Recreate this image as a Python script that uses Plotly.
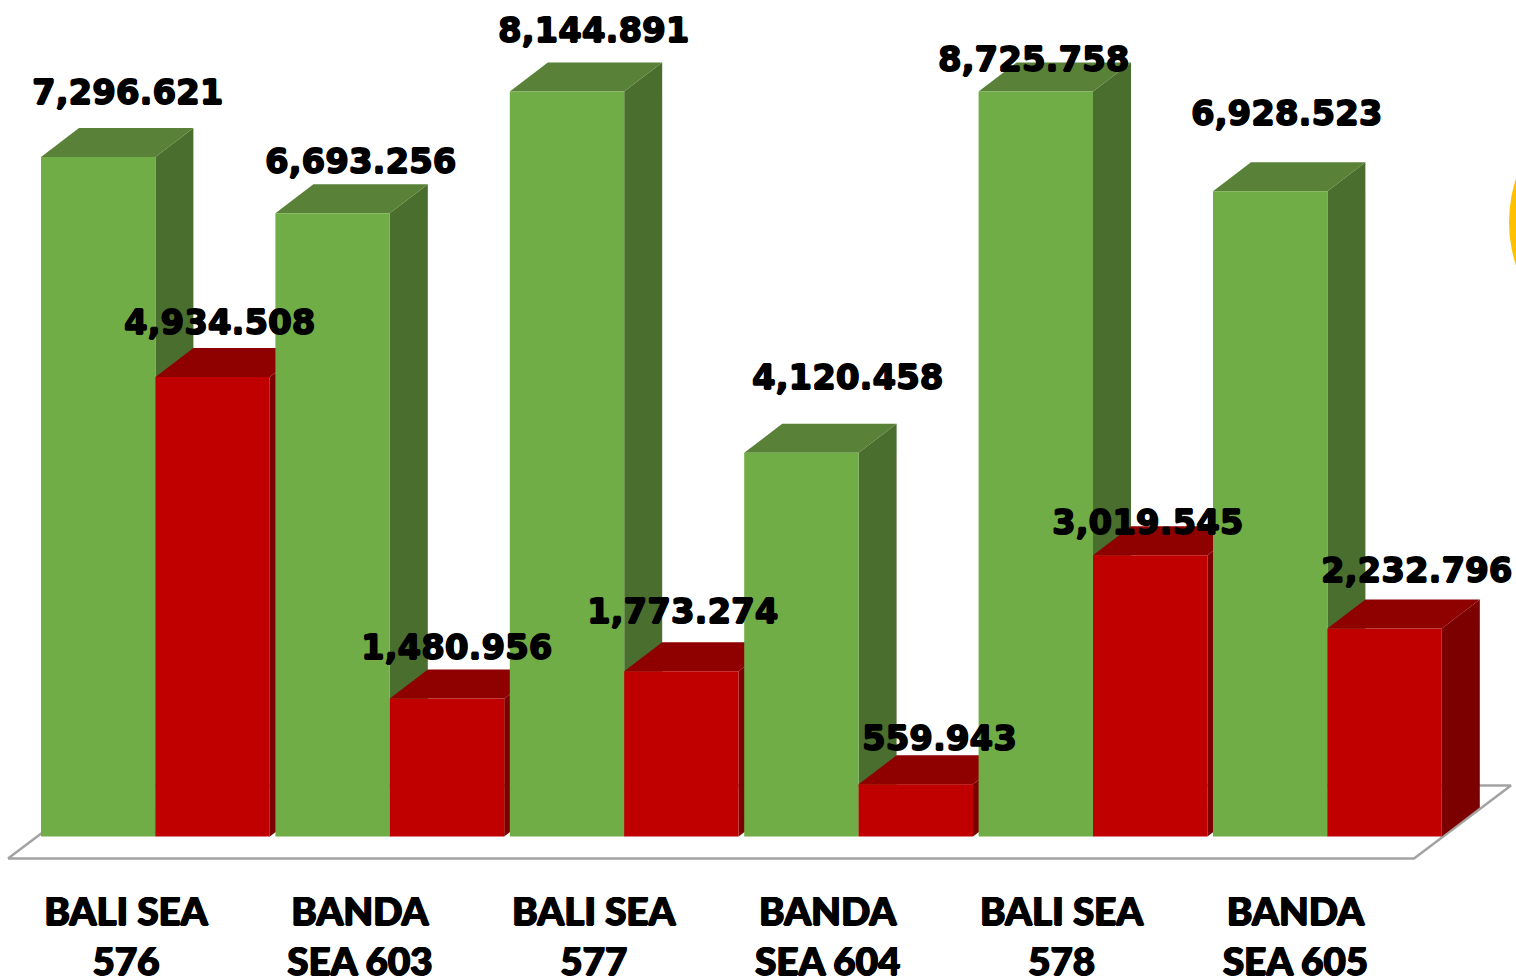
import plotly.graph_objects as go

# values
categories = ["BALI SEA<br>576", "BANDA<br>SEA 603", "BALI SEA<br>577", "BANDA<br>SEA 604", "BALI SEA<br>578", "BANDA<br>SEA 605"]
green_values = [7296.621, 6693.256, 8144.891, 4120.458, 8725.758, 6928.523]
red_values = [4934.508, 1480.956, 1773.274, 559.943, 3019.545, 2232.796]
axis_max = 8000  # the original axis stops here, taller bars get cut off

# label nudges in px, the labels were placed by hand in the original
green_dx = [29.5, 28, 26, 46, -2, 16.5]
green_dy = [65, 52, 62, 76, 33, 78]
red_dx = [6.5, 9, 1, 24, -3, 31.5]
red_dy = [55, 52, 60, 46, 33, 59]

W, H = 1516, 977
PLOT_H = 870
BASE_PX = 836.5
PX_PER_X = 234.4
PX_PER_Y = 745 / axis_max
X0_PX = 126  # pixel of the first tick
TICK_STEP = 233.9 / PX_PER_X  # labels run a touch tighter than the bars

# 3d look: how far the back of a bar sits from its front
depth_x = 38 / PX_PER_X
depth_y = 29 / PX_PER_Y
bar_w = 114.4 / PX_PER_X
green_off = (41 - X0_PX) / PX_PER_X
red_off = green_off + bar_w

GREEN = dict(front="#70AD47", top="#598137", side="#4A6E2D")
RED = dict(front="#C00000", top="#8F0000", side="#7C0000")

# no black weight installed, a thin shadow thickens the bold
HEAVY = "0.8px 0 0 #000,-0.8px 0 0 #000,0 0.6px 0 #000,0 -0.6px 0 #000"

fig = go.Figure()
z = 0


def poly(xs, ys, color, zorder):
    fig.add_trace(go.Scatter(
        x=xs, y=ys, mode="lines", fill="toself", fillcolor=color,
        line=dict(width=0), hoverinfo="skip", showlegend=False, zorder=zorder
    ))


# floor
floor_front = -22 / PX_PER_Y
floor_l = -118 / PX_PER_X
floor_r = 1288 / PX_PER_X
floor_dx = 97 / PX_PER_X
floor_dy = 73 / PX_PER_Y
fig.add_trace(go.Scatter(
    x=[floor_l, floor_r, floor_r + floor_dx, floor_l + floor_dx, floor_l],
    y=[floor_front, floor_front, floor_front + floor_dy, floor_front + floor_dy, floor_front],
    mode="lines", line=dict(color="#A3A3A3", width=2.5),
    fill="toself", fillcolor="#FFFFFF", hoverinfo="skip", showlegend=False, zorder=0
))

annotations = []
for i in range(len(categories)):
    for vals, off, col, dxs, dys in (
        (green_values, green_off, GREEN, green_dx, green_dy),
        (red_values, red_off, RED, red_dx, red_dy),
    ):
        v = vals[i]
        top = min(v, axis_max)
        x0 = i + off
        x1 = x0 + bar_w
        z += 1
        # side and top faces first, front bar over them
        poly([x1, x1 + depth_x, x1 + depth_x, x1, x1], [0, depth_y, top + depth_y, top, 0], col["side"], z)
        poly([x0, x1, x1 + depth_x, x0 + depth_x, x0], [top, top, top + depth_y, top + depth_y, top], col["top"], z)
        z += 1
        fig.add_trace(go.Bar(
            x=[x0 + bar_w / 2], y=[top], width=[bar_w], marker=dict(color=col["front"], line=dict(width=0)),
            hovertext=[f"{categories[i].replace('<br>', ' ')}: {v:,.3f}"], hoverinfo="text",
            showlegend=False, zorder=z
        ))
        annotations.append(dict(
            x=x0 + bar_w / 2, y=top, text=f"{v:,.3f}", showarrow=False,
            xshift=dxs[i], yshift=dys[i],
            font=dict(family="DejaVu Sans", size=34, color="#000000", weight=700, shadow=HEAVY)
        ))

fig.update_layout(
    width=W, height=H,
    margin=dict(l=0, r=0, t=0, b=H - PLOT_H, autoexpand=False),
    paper_bgcolor="#FFFFFF", plot_bgcolor="#FFFFFF",
    barmode="overlay", showlegend=False,
    annotations=annotations,
    # yellow thing poking in from the right edge of the slide
    shapes=[dict(type="circle", xref="paper", yref="paper", layer="above",
                 x0=1509 / W, x1=1787 / W, y0=(PLOT_H - 361) / PLOT_H, y1=(PLOT_H - 83) / PLOT_H,
                 fillcolor="#FFC000", line=dict(width=0))],
    xaxis=dict(
        range=[-X0_PX / PX_PER_X, (W - X0_PX) / PX_PER_X],
        tickmode="array", tickvals=[i * TICK_STEP for i in range(len(categories))], ticktext=categories,
        ticks="outside", ticklen=8, tickcolor="rgba(0,0,0,0)",
        tickfont=dict(family="Lato", size=38.5, color="#000000", weight=900, shadow=HEAVY),
        tickangle=0, showgrid=False, zeroline=False, showline=False, automargin=False
    ),
    yaxis=dict(
        range=[(BASE_PX - PLOT_H) / PX_PER_Y, BASE_PX / PX_PER_Y],
        visible=False, showgrid=False, zeroline=False
    )
)

fig.write_html("out.html", config=dict(displayModeBar=False),
               post_script="document.body.style.margin='0';document.body.style.overflow='hidden';")
